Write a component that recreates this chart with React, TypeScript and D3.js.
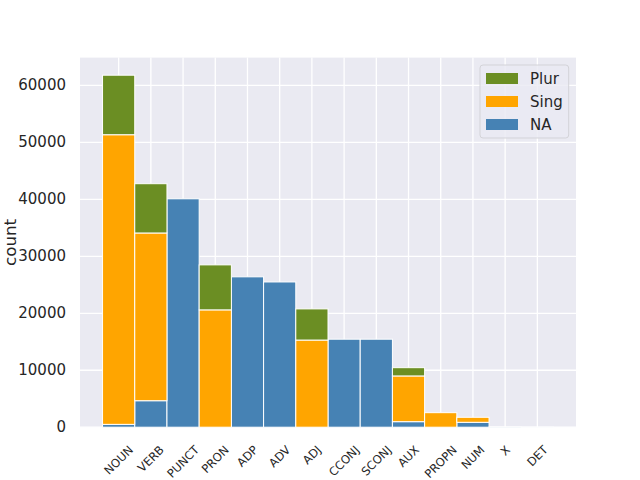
import React from "react";
import * as d3 from "d3";

const categories = ["NOUN", "VERB", "PUNCT", "PRON", "ADP", "ADV", "ADJ", "CCONJ", "SCONJ", "AUX", "PROPN", "NUM", "X", "DET"];
const naValues = [500, 4650, 40100, 0, 26400, 25500, 0, 15450, 15450, 970, 0, 860, 30, 10];
const singValues = [50850, 29450, 0, 20600, 0, 0, 15300, 0, 0, 8030, 2550, 880, 0, 0];
const plurValues = [10450, 8650, 0, 7900, 0, 0, 5470, 0, 0, 1450, 0, 0, 0, 0];
const yTicks = [0, 10000, 20000, 30000, 40000, 50000, 60000];

const seriesNames = ["NA", "Sing", "Plur"];
const seriesColors: Record<string, string> = { NA: "#4682b4", Sing: "#ffa500", Plur: "#6b8e23" };
const legendOrder = ["Plur", "Sing", "NA"];

const W = 640, H = 480;
const L = 80, R = 576, T = 57.6, B = 427.2;
const FONT = "DejaVu Sans, sans-serif";

function measure(text: string, size: number) {
  const c = document.createElement("canvas").getContext("2d");
  if (!c) return text.length * size * 0.68;
  c.font = `${size}px "DejaVu Sans"`;
  return c.measureText(text).width;
}

export default function App() {
  const rows = categories.map((c, i) => ({ cat: c, idx: i, NA: naValues[i], Sing: singValues[i], Plur: plurValues[i] }));
  const stack = d3.stack<any>().keys(seriesNames)(rows);
  const totals = rows.map(r => r.NA + r.Sing + r.Plur);
  const yMax = (d3.max(totals) as number) * 1.05;
  const lo = -0.5, hi = categories.length - 0.5, m = (hi - lo) * 0.05;
  const x = d3.scaleLinear().domain([lo - m, hi + m]).range([L, R]);
  const y = d3.scaleLinear().domain([0, yMax]).range([B, T]);
  const xfs = 11.6;
  const lh = 1.164 * xfs;

  return (
    <svg width={W} height={H} style={{ position: "absolute", left: 0, top: 0, background: "#fff" }} fontFamily={FONT}>
      <rect x={L} y={T} width={R - L} height={B - T} fill="#eaeaf2" />
      {yTicks.map(t => (
        <line key={"gy" + t} x1={L} x2={R} y1={y(t)} y2={y(t)} stroke="#fff" strokeWidth={1.3} />
      ))}
      {categories.map((c, i) => (
        <line key={"gx" + c} x1={x(i)} x2={x(i)} y1={T} y2={B} stroke="#fff" strokeWidth={1.3} />
      ))}
      {stack.map(s => (
        <g key={s.key} fill={seriesColors[s.key]}>
          {s.map((d, i) => {
            if (d[1] - d[0] <= 0) return null;
            return (
              <rect key={i} x={x(i - 0.5)} width={x(i + 0.5) - x(i - 0.5)} y={y(d[1])} height={y(d[0]) - y(d[1])}
                stroke="#fff" strokeWidth={1} />
            );
          })}
        </g>
      ))}
      {yTicks.map(t => (
        <text key={"ty" + t} x={66} y={y(t)} textAnchor="end" dominantBaseline="central" fontSize={15} fill="#262626">{t}</text>
      ))}
      {categories.map((c, i) => {
        const len = measure(c, xfs);
        const side = (len + lh) / Math.SQRT2;
        const cx = x(i), cy = 443 + side / 2;
        return (
          <text key={"tx" + c} x={cx} y={cy} textAnchor="middle" dominantBaseline="central" fontSize={xfs} fill="#262626"
            transform={`rotate(-45 ${cx} ${cy})`}>{c}</text>
        );
      })}
      <text x={16} y={(T + B) / 2} transform={`rotate(-90 16 ${(T + B) / 2})`} textAnchor="middle" fontSize={16.7} fill="#262626">count</text>
      <g>
        <rect x={480} y={65} width={88.7} height={73} rx={3} fill="#eaeaf2" fillOpacity={0.8} stroke="#d3d3d8" strokeWidth={1} />
        {legendOrder.map((k, i) => {
          const cy = 78.5 + i * 23;
          return (
            <g key={"lg" + k}>
              <rect x={486} y={cy - 5.5} width={32} height={11} fill={seriesColors[k]} />
              <text x={530} y={cy} dominantBaseline="central" fontSize={15} fill="#262626">{k}</text>
            </g>
          );
        })}
      </g>
    </svg>
  );
}
